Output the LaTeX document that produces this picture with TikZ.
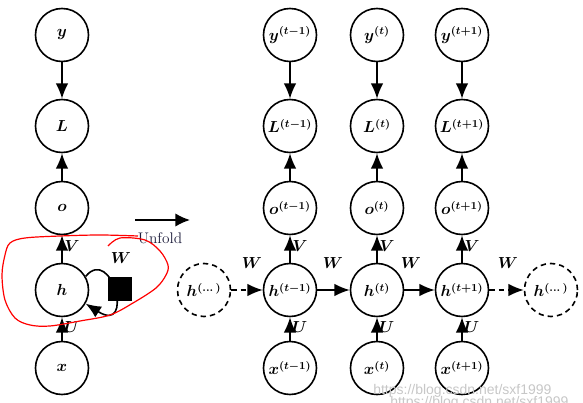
\documentclass[tikz,border=0pt]{standalone}
\usepackage{amsmath,bm}
\usepackage{fontspec}
\DeclareMathSizes{12}{12}{8}{6}
\newfontfamily\wmfont{Liberation Sans}
\usetikzlibrary{arrows.meta}
\definecolor{unfoldcol}{RGB}{30,30,60}
\begin{document}
\begin{tikzpicture}[x=0.75pt,y=-0.75pt,
  unit/.style={circle,draw,line width=1.2pt,minimum size=39.75pt,inner sep=0pt,font=\large},
  ghost/.style={unit,dash pattern=on 4pt off 3pt},
  arr/.style={line width=1.2pt,-{Latex[length=11.5pt,width=9.5pt]}},
  dasharr/.style={arr,dash pattern=on 4pt off 3pt},
  lab/.style={font=\large},
  scribble/.style={red,line width=0.9pt},
  wm/.style={text=black!22,font=\wmfont\fontsize{10.5}{12}\selectfont,anchor=base west,inner sep=0pt}]
\useasboundingbox (0,0) rectangle (583,403);
\begin{scope}
\clip (0,0) rectangle (583,403);
% left folded graph
\node[unit] (y) at (62,35) {$\bm{y}$};
\node[unit] (L) at (62,126) {$\bm{L}$};
\node[unit] (o) at (62,208) {$\bm{o}$};
\node[unit] (h) at (62,290) {$\bm{h}$};
\node[unit] (x) at (62,368) {$\bm{x}$};
\draw[arr] (y) -- (L);
\draw[arr] (o) -- (L);
\draw[arr] (h) -- (o) node[lab,pos=0.6,right,xshift=-2pt] {$\bm{V}$};
\draw[arr] (x) -- (h) node[lab,pos=0.6,right,xshift=-2pt] {$\bm{U}$};
\draw[arr] (h.30) .. controls (112,245) and (135,335) .. (h.-30);
\node[fill=black,minimum size=18pt,inner sep=0pt] (sq) at (120,289) {};
\node[lab] (wl) at (121,258) {$\bm{W}$};
% unfold arrow
\coordinate (ua) at (135,220);
\coordinate (ub) at (190,220);
\draw[line width=1.2pt,-{Latex[length=11pt,width=10pt]}] (ua) -- (ub);
\node[font=\fontsize{11.5}{13}\selectfont,text=unfoldcol] (unf) at (160,238) {Unfold};
% unfolded graph
\foreach \n/\cx/\s in {1/290/{t-1},2/377/{t},3/462/{t+1}}{
  \node[unit] (y\n) at (\cx,35) {$\bm{y^{(\s)}}$};
  \node[unit] (L\n) at (\cx,126) {$\bm{L^{(\s)}}$};
  \node[unit] (o\n) at (\cx,208) {$\bm{o^{(\s)}}$};
  \node[unit] (h\n) at (\cx,290) {$\bm{h^{(\s)}}$};
  \node[unit] (x\n) at (\cx,368) {$\bm{x^{(\s)}}$};
  \draw[arr] (y\n) -- (L\n);
  \draw[arr] (o\n) -- (L\n);
  \draw[arr] (h\n) -- (o\n) node[lab,pos=0.6,right,xshift=-2pt] {$\bm{V}$};
  \draw[arr] (x\n) -- (h\n) node[lab,pos=0.6,right,xshift=-2pt] {$\bm{U}$};
}
\node[ghost] (hl) at (204,290) {$\bm{h^{(\dots)}}$};
\node[ghost] (hr) at (551,290) {$\bm{h^{(\dots)}}$};
\draw[dasharr] (hl) -- (h1);
\draw[arr] (h1) -- (h2);
\draw[arr] (h2) -- (h3);
\draw[dasharr] (h3) -- (hr);
\node[lab] (w1) at (252,263) {$\bm{W}$};
\node[lab] (w2) at (333,263) {$\bm{W}$};
\node[lab] (w3) at (411,263) {$\bm{W}$};
\node[lab] (w4) at (508,263) {$\bm{W}$};
% red hand-drawn loop
\draw[scribble] plot[smooth,tension=0.55] coordinates {(108,246) (120,238) (145,240) (160,251) (168,265) (166,275) (156,288) (133,303) (110,315) (80,321) (50,326) (30,325) (15,318) (5,300) (2,275) (5,255) (10,243) (25,238) (60,236) (100,235) (138,236)};
% watermark
\node[wm] (wm2) at (390,406) {https://blog.csdn.net/sxf1999};
\node[wm] (wm1) at (373,394) {https://blog.csdn.net/sxf1999};
\end{scope}
\end{tikzpicture}
\end{document}
